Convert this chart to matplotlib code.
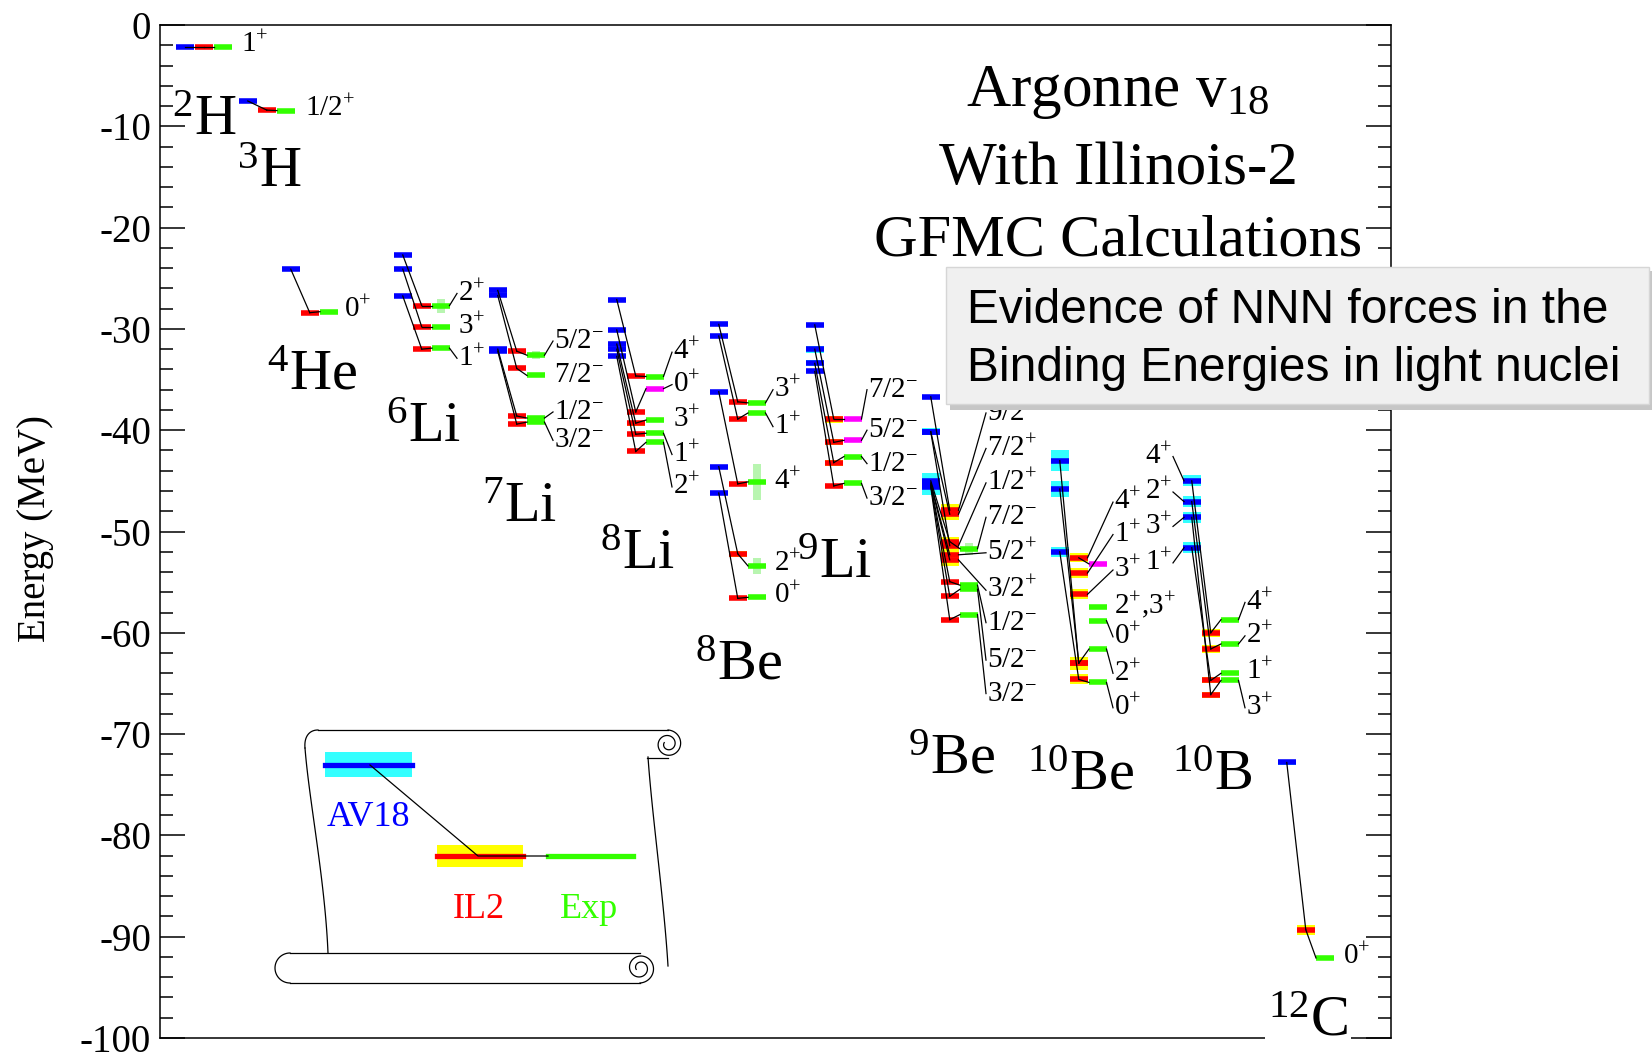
import re
import numpy as np
import matplotlib
matplotlib.use('Agg')
import matplotlib.pyplot as plt
from matplotlib.lines import Line2D
from matplotlib.patches import Rectangle
from matplotlib.transforms import Affine2D
from matplotlib.ticker import MultipleLocator, FuncFormatter

W, H = 1652, 1052

plt.rcParams['font.family'] = 'Liberation Serif'
plt.rcParams['mathtext.fontset'] = 'custom'
plt.rcParams['mathtext.rm'] = 'Liberation Serif'
plt.rcParams['mathtext.default'] = 'regular'

BLUE, CYAN = '#0000ff', '#33ffff'
RED, YELLOW = '#ff0000', '#ffff00'
GREEN, MAGENTA, PALE = '#33ff00', '#ff00ff', '#b8f5b0'

# level rows: spin, AV18, AV18 band, IL2, IL2 band, Exp, Exp width, label y (MeV)
H2 = [('1+', -2.2, 0, -2.2, 0, -2.2, 0, -2.0)]
H3 = [('1/2+', -7.5, 0, -8.4, 0, -8.45, 0, -8.3)]
HE4 = [('0+', -24.1, 0, -28.4, 0, -28.3, 0, -28.1)]
LI6 = [('2+', -22.7, 0, -27.7, 0, -27.7, 0.7, -26.5),
       ('3+', -24.1, 0, -29.8, 0, -29.8, 0, -29.8),
       ('1+', -26.75, 0, -32.0, 0, -31.9, 0, -32.9)]
LI7 = [('5/2-', -26.2, 0, -32.2, 0, -32.6, 0.4, -31.2),
       ('7/2-', -26.7, 0, -33.9, 0, -34.6, 0, -34.55),
       ('1/2-', -32.0, 0, -38.6, 0, -38.8, 0, -38.2),
       ('3/2-', -32.2, 0, -39.4, 0, -39.2, 0, -41.0)]
LI8 = [('4+', -27.1, 0, -34.65, 0, -34.7, 0, -32.3),
       ('0+', -30.1, 0, -38.2, 0, -35.9, 0, -35.5),
       ('3+', -31.5, 0, -39.3, 0.25, -39.0, 0, -39.0),
       ('1+', -32.0, 0, -40.4, 0, -40.3, 0, -42.4),
       ('2+', -32.7, 0, -42.1, 0, -41.2, 0, -45.6)]
BE8 = [('3+', -29.55, 0, -37.2, 0, -37.3, 0, -36.0),
       ('1+', -30.7, 0, -38.9, 0, -38.3, 0, -39.65),
       ('4+', -36.2, 0, -45.3, 0.2, -45.1, 1.8, -45.1),
       ('2+', -43.6, 0, -52.2, 0.3, -53.4, 0.8, -53.2),
       ('0+', -46.2, 0, -56.6, 0.2, -56.5, 0, -56.3)]
LI9 = [('7/2-', -29.6, 0, -38.9, 0.35, -38.9, 0, -36.0),
       ('5/2-', -32.0, 0.35, -41.2, 0.3, -41.0, 0, -40.0),
       ('1/2-', -33.4, 0.3, -43.2, 0.3, -42.6, 0, -43.3),
       ('3/2-', -34.2, 0, -45.5, 0.2, -45.25, 0, -46.7)]
BE9 = [('9/2-', -36.7, 0, -47.9, 0.6, None, 0, -38.3),
       ('7/2+', -40.15, 0.35, -48.3, 0.6, None, 0, -41.8),
       ('1/2+', -40.15, 0.35, -51.4, 0.5, None, 0, -45.2),
       ('7/2-', -45.0, 0.75, -51.0, 0.5, -51.7, 0.6, -48.6),
       ('5/2+', -45.2, 0.75, -52.3, 0.6, None, 0, -52.1),
       ('3/2+', -45.3, 0.75, -52.8, 0.6, None, 0, -55.8),
       ('1/2-', -45.4, 0.75, -54.95, 0, -55.3, 0, -59.0),
       ('5/2-', -45.5, 0.75, -56.4, 0, -55.7, 0, -62.7),
       ('3/2-', -45.6, 0.75, -58.7, 0, -58.2, 0, -66.0)]
BE10 = [('4+', None, 0, -52.6, 0.45, -53.2, 0, -47.1),
        ('1+', None, 0, -54.1, 0.5, None, 0, -50.3),
        ('3+', None, 0, -56.2, 0.5, None, 0, -53.8),
        ('2+,3+', None, 0, None, 0, -57.5, 0, -57.3),
        ('0+', None, 0, None, 0, -58.8, 0, -60.4),
        ('2+', -45.8, 0.75, -63.0, 0.65, -61.6, 0, -64.0),
        ('0+', -52.0, 0.5, -64.6, 0.5, -64.9, 0, -67.4),
        ('', -43.0, 1.05, -63.0, 0, None, 0, None)]
B10 = [('4+', -45.0, 0.55, -60.0, 0.4, -58.7, 0, -57.0),
       ('2+', -47.05, 0.55, -61.6, 0.4, -61.1, 0, -60.3),
       ('1+', -51.6, 0.55, -64.7, 0.3, -64.0, 0, -63.8),
       ('3+', -48.6, 0.55, -66.1, 0.3, -64.7, 0, -67.4)]
C12 = [('0+', -72.8, 0.25, -89.3, 0.5, -92.1, 0, -92.0)]

# AV18 spin labels of 10B (same row order as B10)
B10_AV18_LAB = [-42.6, -46.1, -53.1, -49.5]

# experimental levels without firm assignment
MAGENTA_LEVELS = [('8Li', '0+'), ('9Li', '7/2-'), ('9Li', '5/2-'), ('10Be', '4+')]
LABEL_FROM_IL2 = [('10Be', '4+')]

# name, rows, AV18 column (px), spin label x (px), isotope label, its left/baseline (px)
NUCLEI = [
    ('2H', H2, 176, 240, '$^{2}$H', 172, 135),
    ('3H', H3, 239, 304, '$^{3}$H', 237, 187),
    ('4He', HE4, 282, 343, '$^{4}$He', 267, 390),
    ('6Li', LI6, 394, 457, '$^{6}$Li', 386, 442),
    ('7Li', LI7, 489, 553, '$^{7}$Li', 482, 522),
    ('8Li', LI8, 608, 672, '$^{8}$Li', 600, 569),
    ('8Be', BE8, 710, 773, '$^{8}$Be', 695, 680),
    ('9Li', LI9, 806, 867, '$^{9}$Li', 797, 578),
    ('9Be', BE9, 922, 986, '$^{9}$Be', 908, 774),
    ('10Be', BE10, 1051, 1113, '$^{10}$Be', 1027, 790),
    ('10B', B10, 1183, 1245, '$^{10}$B', 1172, 790),
    ('12C', C12, 1278, 1342, '$^{12}$C', 1268, 1035),
]

X0 = 160          # px of the left spine
BW, STEP = 17.5, 19
LW_BAR = 4
SPIN_FS = 21


def spin_text(s):
    return re.sub(r'([+-])', lambda m: '$^{' + m.group(1) + '}$', s)


def bez(p0, p1, p2, p3, n=40):
    t = np.linspace(0, 1, n)[:, None]
    pts = ((1 - t) ** 3) * np.array(p0) + 3 * ((1 - t) ** 2) * t * np.array(p1) \
        + 3 * (1 - t) * t ** 2 * np.array(p2) + t ** 3 * np.array(p3)
    return pts[:, 0], pts[:, 1]


def spiral(cx, cy, r0, r1, t0, t1, n=120):
    t = np.radians(np.linspace(t0, t1, n))
    r = np.linspace(r0, r1, n)
    return cx + r * np.cos(t), cy - r * np.sin(t)


fig = plt.figure(figsize=(W / 100, H / 100), dpi=100)
ax = fig.add_axes([X0 / W, 1 - 1038 / H, 1231 / W, 1013 / H])
pix = Affine2D().scale(1, -1).translate(0, H)


def pline(xs, ys, **kw):
    kw.setdefault('color', 'k')
    kw.setdefault('lw', 0.9)
    fig.add_artist(Line2D(xs, ys, transform=pix, **kw))


def band(x, e, half, color, width=BW):
    ax.add_patch(Rectangle((x, e - half), width, 2 * half, fc=color, ec='none', zorder=2))


for name, rows, bx, lx, iso, tx, ty in NUCLEI:
    xa = bx - X0
    xi = xa + STEP
    xe = xi + STEP
    lxd = lx - X0
    for spin, av, av_b, il, il_b, ex, ex_w, lab in rows:
        if av is not None:
            if av_b:
                band(xa, av, av_b, CYAN)
            ax.hlines(av, xa, xa + BW, colors=BLUE, lw=LW_BAR, zorder=3)
        if il is not None:
            if il_b:
                band(xi, il, il_b, YELLOW)
            ax.hlines(il, xi, xi + BW, colors=RED, lw=LW_BAR, zorder=3)
        if ex is not None:
            col = MAGENTA if (name, spin) in MAGENTA_LEVELS else GREEN
            if ex_w:
                band(xe + BW / 2 - 4, ex, ex_w, PALE, width=8)
            ax.hlines(ex, xe, xe + BW, colors=col, lw=LW_BAR, zorder=3)
        # connecting lines AV18 -> IL2 -> Exp
        if av is not None and il is not None:
            ax.plot([xa + BW / 2, xi + BW / 2], [av, il], color='k', lw=0.9, zorder=4)
        if il is not None and ex is not None:
            ax.plot([xi + BW / 2, xe], [il, ex], color='k', lw=0.9, zorder=4)
        if lab is None:
            continue
        if ex is not None and (name, spin) not in LABEL_FROM_IL2:
            sx, sy, from_il2 = xe + BW, ex, False
        else:
            sx, sy, from_il2 = xi + BW, il, True
        if from_il2 or abs(sy - lab) > 0.35:
            ax.plot([sx, lxd], [sy, lab], color='k', lw=0.9, zorder=4)
        ax.text(lxd + 1, lab, spin_text(spin), fontsize=SPIN_FS, ha='left', va='center', zorder=5)

    bbox = dict(fc='white', ec='none', pad=2) if name == '12C' else None
    fig.text(tx, ty, iso, transform=pix, fontsize=42, ha='left', va='baseline', bbox=bbox)

# AV18 spin labels for 10B on the left of its column
for row, lab in zip(B10, B10_AV18_LAB):
    spin, av = row[0], row[1]
    ax.plot([1173 - X0, 1184 - X0], [lab, av], color='k', lw=0.9, zorder=4)
    ax.text(1172 - X0, lab, spin_text(spin), fontsize=SPIN_FS, ha='right', va='center', zorder=5)

# axes frame and energy scale
ax.set_xlim(0, 1231)
ax.set_ylim(-100, 0)
ax.set_xticks([])
ax.yaxis.set_major_locator(MultipleLocator(10))
ax.yaxis.set_minor_locator(MultipleLocator(2))
ax.yaxis.set_major_formatter(FuncFormatter(lambda v, p: f'{int(round(v))}'))
ax.tick_params(axis='y', which='both', direction='in', left=True, right=True,
               labelleft=True, labelright=False, width=1.1, labelsize=28, pad=6.5)
ax.tick_params(axis='y', which='major', length=18)
ax.tick_params(axis='y', which='minor', length=9.4)
for sp in ax.spines.values():
    sp.set_linewidth(1.1)

fig.text(36, 528, 'Energy (MeV)', transform=pix, rotation=90, ha='center', va='center', fontsize=28)

# title block
fig.text(1118, 106, 'Argonne v$_{18}$', transform=pix, ha='center', va='baseline', fontsize=44)
fig.text(1118, 184, 'With Illinois-2', transform=pix, ha='center', va='baseline', fontsize=44)
fig.text(1118, 255, 'GFMC Calculations', transform=pix, ha='center', va='baseline', fontsize=43.5)

# legend scroll
pline(*bez((328, 953), (325, 880), (309, 800), (305, 748)))
pline(*bez((305, 748), (304, 737), (309, 730), (318, 730)))
pline([318, 668], [730, 730])
pline(*spiral(668, 744, 14, 4, 90, -560))
pline([647, 668], [758, 758])
pline(*bez((648, 757), (652, 815), (664, 900), (668, 966)))
pline([290, 640], [953, 953])
pline([290, 640], [983, 983])
pline(*spiral(290, 968, 15, 15, 90, 270, n=40))
pline(*spiral(640, 968, 15, 4, -90, 560))

fig.add_artist(Rectangle((325, 752), 87, 25, transform=pix, fc=CYAN, ec='none'))
pline([325, 412], [765, 765], color=BLUE, lw=3.8)
fig.add_artist(Rectangle((437, 845), 86, 22, transform=pix, fc=YELLOW, ec='none'))
pline([437, 523], [856, 856], color=RED, lw=3.8)
pline([548, 633], [856, 856], color=GREEN, lw=3.8)
pline([370, 478, 548], [765, 856, 856])
fig.text(368, 818, 'AV18', transform=pix, color=BLUE, fontsize=26, ha='center', va='center')
fig.text(479, 910, 'IL2', transform=pix, color=RED, fontsize=26, ha='center', va='center')
fig.text(589, 910, 'Exp', transform=pix, color=GREEN, fontsize=26, ha='center', va='center')

# call-out box
fig.add_artist(Rectangle((950, 271), 703, 139, transform=pix, fc='#c6c6c6', ec='none'))
fig.add_artist(Rectangle((946, 267), 703, 137, transform=pix, fc='#f0f0f0', ec='#d6d6d6', lw=1))
fig.text(967, 323, 'Evidence of NNN forces in the', transform=pix, family='Liberation Sans',
         fontsize=34.5, va='baseline')
fig.text(967, 381, 'Binding Energies in light nuclei', transform=pix, family='Liberation Sans',
         fontsize=34.5, va='baseline')

fig.savefig('out.png', dpi=100)
